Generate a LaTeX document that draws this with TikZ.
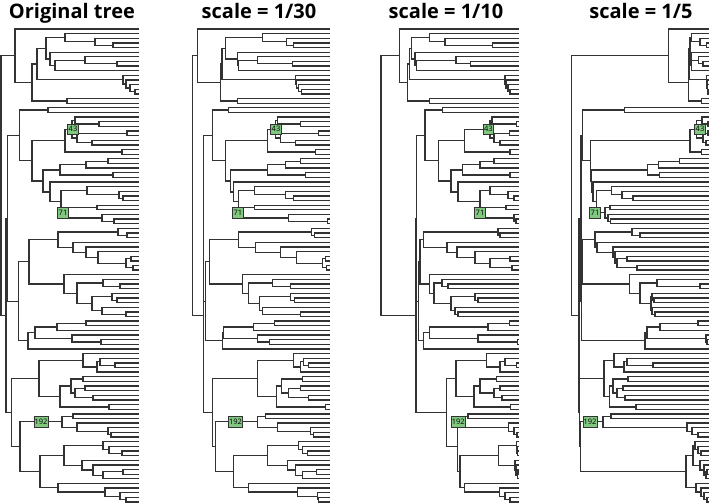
\documentclass[tikz,border=0pt]{standalone}
\usepackage{fontspec}
\usepackage{xcolor}
\usepackage{tikz}
\usetikzlibrary{calc}
\newfontfamily\ttlfont{Open Sans}
\definecolor{lblgreen}{RGB}{128,200,128}

% one fork of the tree: name, upper child, lower child, x in the four panels
\newcommand{\nd}[7]{%
  \edef\xv{\ifcase\pnl\or#4\or#5\or#6\or#7\fi}%
  \coordinate (m) at ($(#2)!0.5!(#3)$);
  \coordinate (#1) at (\xv,0 |- m);
  \draw[br] (#2) -| (#1) |- (#3);
}
% node label box: name, node, text, x in the four panels
\newcommand{\lab}[7]{%
  \edef\xv{\ifcase\pnl\or#4\or#5\or#6\or#7\fi}%
  \node[lbl] (#1) at (\xv,0 |- #2) {#3};
}

\begin{document}
\begin{tikzpicture}[x=1pt,y=-1pt,
  br/.style={draw=black!80,line width=1.3pt},
  lbl/.style={draw=black!80,fill=lblgreen,line width=0.7pt,inner sep=0.6pt,
    minimum height=10.5pt,minimum width=10.5pt,font=\ttlfont\fontsize{7.5}{7.5}\selectfont},
  ttl/.style={anchor=base,inner sep=0pt,font=\ttlfont\bfseries\fontsize{20}{22}\selectfont}]
\useasboundingbox (0,0) rectangle (709,503);

% titles
\node[ttl] (ttl1) at (72,19) {Original tree};
\node[ttl] (ttl2) at (259,19) {scale = 1/30};
\node[ttl] (ttl3) at (446,19) {scale = 1/10};
\node[ttl] (ttl4) at (641,19) {scale = 1/5};

\foreach \pnl/\off in {1/0,2/190.5,3/380,4/570}{
\begin{scope}[xshift=\off pt]
  \foreach \i in {1,...,103}
    \coordinate (t\i) at (139,{29+(\i-1)*4.637});
  % top clade
  \nd{E3}{t4}{t5}{113}{102.7}{112.7}{136.7}
  \nd{E2}{t3}{E3}{95}{96}{65}{130}
  \nd{E}{t2}{E2}{65}{71.7}{49.3}{121.7}
  \nd{F4}{t8}{t9}{117}{101.7}{90.7}{133}
  \nd{F3}{t7}{F4}{85}{66.7}{76}{128.3}
  \nd{F2}{F3}{t10}{55}{48.3}{36.7}{121.7}
  \nd{F}{t6}{F2}{50}{46.7}{35}{121}
  \nd{A4}{E}{F}{46}{35}{31.7}{120}
  \nd{D4}{t14}{t15}{135}{110.7}{130}{138}
  \nd{D3}{t13}{D4}{130}{108}{128}{137.5}
  \nd{D2}{t12}{D3}{126}{106}{126}{137}
  \nd{D}{t11}{D2}{123}{105}{125}{136.7}
  \nd{A3}{A4}{D}{37}{31.5}{29.3}{119}
  \nd{C16}{t16}{t17}{67}{46.7}{49.3}{131.7}
  \nd{A2}{A3}{C16}{32}{30}{27.3}{118.3}
  \nd{A}{t1}{A2}{15}{7.3}{19.3}{98.3}
  % clade with 43 and 71
  \nd{C18}{t18}{t19}{48}{38.3}{62.7}{54.3}
  \nd{G2}{t21}{t22}{99}{110}{136.7}{138}
  \nd{G1}{t20}{G2}{75}{87}{112}{132}
  \nd{G4}{t23}{t24}{127}{128}{129.3}{138}
  \nd{G5}{t25}{t26}{92}{105}{120}{136}
  \nd{G3}{G4}{G5}{77}{90}{114}{133}
  \nd{N43}{G1}{G3}{72}{85}{110}{126.7}
  \nd{C26}{t27}{t28}{122}{125}{130}{131.7}
  \nd{N43par}{N43}{C26}{65}{77}{84.3}{120}
  \nd{X4c}{t29}{t30}{108}{110}{114}{109.3}
  \nd{X4a}{X4c}{t31}{86}{95}{100}{88.3}
  \nd{C31}{t32}{t33}{113}{115}{130}{89.3}
  \nd{X4}{X4a}{C31}{60}{77}{82.7}{77.3}
  \nd{X7b}{t37}{t38}{123}{102.7}{134}{63}
  \nd{X7a}{t36}{X7b}{119}{95}{128}{52}
  \nd{X7}{t35}{X7a}{87}{64}{110}{41.7}
  \nd{C38}{t39}{t40}{97}{64}{126}{40}
  \nd{C41}{t42}{t43}{114}{136.7}{136}{40.5}
  \nd{N71b}{t41}{C41}{102}{98}{134}{38}
  \nd{N71}{C38}{N71b}{67}{51.7}{103}{35}
  \nd{X6}{X7}{N71}{61}{48.3}{100}{26.5}
  \nd{X5}{t34}{X6}{50}{43.3}{78}{23}
  \nd{X3}{X4}{X5}{43}{40}{71}{21.7}
  \nd{X2}{N43par}{X3}{32}{35}{58.3}{20.7}
  \nd{X}{C18}{X2}{19.3}{21.7}{45}{12.3}
  % middle clade
  \nd{Za2}{t45}{t46}{127}{124}{120}{70}
  \nd{Za1}{t44}{Za2}{118}{120.7}{118}{62}
  \nd{Zc5}{t50}{t51}{131}{135}{130}{57}
  \nd{Zc6}{t52}{t53}{133}{136}{132}{67}
  \nd{Zc4}{Zc5}{Zc6}{126}{131.7}{110}{47}
  \nd{Zc3}{t49}{Zc4}{98}{106}{95}{45}
  \nd{Zc2}{t48}{Zc3}{86}{90}{77}{43}
  \nd{Z1c}{t47}{Zc2}{73}{65}{67}{27}
  \nd{Z1a}{Za1}{Z1c}{58}{48.3}{43.3}{25}
  \nd{Zb9}{t56}{t57}{120}{100}{68}{130}
  \nd{Zb3}{t55}{Zb9}{103}{81.7}{62}{87}
  \nd{Zb6}{t59}{t60}{117}{104}{98}{84}
  \nd{Zb5}{t58}{Zb6}{112}{100}{95}{82}
  \nd{Zb8}{t62}{t63}{126}{110}{78}{85}
  \nd{Zb7}{t61}{Zb8}{102}{71.7}{75}{82}
  \nd{Zb4}{Zb5}{Zb7}{92}{69.3}{71}{81}
  \nd{Zb2}{Zb3}{Zb4}{77}{57.7}{54}{70}
  \nd{Z1b}{t54}{Zb2}{64}{51.7}{49.3}{59.3}
  \nd{Z1}{Z1a}{Z1b}{29}{19.3}{40}{12}
  \nd{Z2c}{t64}{t65}{86}{84.3}{129.3}{128}
  \nd{Z2b}{Z2c}{t66}{57}{63.3}{108}{90}
  \nd{Z2e}{t68}{t69}{101}{79.3}{137.7}{137}
  \nd{Z2d}{t67}{Z2e}{72}{67}{98}{136}
  \nd{Z2a}{Z2b}{Z2d}{35}{33.3}{49.3}{77}
  \nd{Z2}{Z2a}{t70}{28}{31.7}{43.3}{75}
  \nd{Z}{Z1}{Z2}{18.3}{15}{38.5}{11.5}
  \nd{S}{X}{Z}{7.3}{13.2}{36.5}{11}
  % bottom clade with 192
  \nd{Wa4}{t73}{t74}{115}{118}{136.7}{83}
  \nd{Wa3}{t72}{Wa4}{100}{113}{125}{57}
  \nd{Wa2}{Wa3}{t75}{97}{110}{120}{54}
  \nd{W1a}{t71}{Wa2}{83}{103.3}{106.7}{44}
  \nd{Wb3}{t76}{t77}{83}{111.7}{116.7}{58}
  \nd{Wb5}{t78}{t79}{85}{110}{120}{53}
  \nd{Wb6}{t80}{t81}{93}{118}{122}{55}
  \nd{Wb4}{Wb5}{Wb6}{75}{98}{114}{47}
  \nd{Wb2}{Wb3}{Wb4}{71}{91}{100}{43}
  \nd{Wb7}{t82}{t83}{109}{135}{130.7}{66}
  \nd{W1b}{Wb2}{Wb7}{60}{85.7}{94}{39.3}
  \nd{W1}{W1a}{W1b}{39}{67.3}{76}{34}
  \nd{Wc1}{t84}{t85}{73}{75}{88}{41}
  \nd{Wc4}{t88}{t89}{111}{122.7}{137}{128}
  \nd{Wc3}{t87}{Wc4}{108}{120}{134}{122}
  \nd{Wc2}{t86}{Wc3}{77}{86.7}{128.3}{117}
  \nd{N192}{Wc1}{Wc2}{62}{67.3}{85}{33}
  \nd{Wd4}{t92}{t93}{122}{117}{137.5}{131}
  \nd{Wd3}{t91}{Wd4}{109}{112}{137}{128}
  \nd{Wd2}{t90}{Wd3}{103}{108}{136.7}{125}
  \nd{Wd8}{t96}{t97}{123}{126}{138}{137}
  \nd{Wd7}{Wd8}{t98}{103}{111.7}{137.5}{136}
  \nd{Wd6}{t95}{Wd7}{93}{105}{136}{134}
  \nd{Wd5}{t94}{Wd6}{82}{96.7}{135}{130}
  \nd{Wd1}{Wd2}{Wd5}{64}{77.3}{118.3}{123}
  \nd{Wd12}{t102}{t103}{126}{128}{130}{137}
  \nd{Wd11}{t101}{Wd12}{120}{127}{125}{134}
  \nd{Wd10}{t100}{Wd11}{105}{107}{119.3}{131}
  \nd{Wd9}{t99}{Wd10}{58}{58.3}{84.3}{126}
  \nd{W2b}{Wd1}{Wd9}{40}{43.3}{80}{116}
  \nd{W2}{N192}{W2b}{20}{25}{77.3}{10.3}
  \nd{W}{W1}{W2}{11.7}{21.7}{66.7}{9.5}
  \nd{R}{S}{W}{6}{12.7}{36}{9}
  \nd{root}{A}{R}{1}{1.7}{1}{1.5}
  % node labels
  \lab{l43}{N43}{43}{73}{85.5}{108.3}{130}
  \lab{l71}{N71}{71}{63}{47.3}{100}{25}
  \lab{l192}{N192}{192}{41}{45}{78.3}{20}
\end{scope}
}
\end{tikzpicture}
\end{document}
